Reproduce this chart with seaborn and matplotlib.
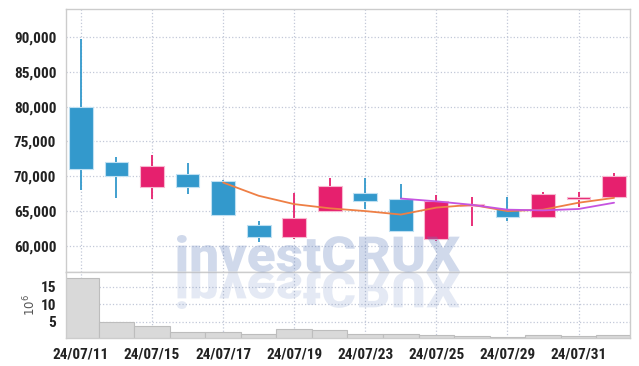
import numpy as np
import pandas as pd
import matplotlib
matplotlib.use('Agg')
import matplotlib.pyplot as plt
import seaborn as sns
from matplotlib.textpath import TextPath
from matplotlib.font_manager import FontProperties
from matplotlib.patches import PathPatch
from matplotlib.transforms import Affine2D, IdentityTransform
from matplotlib.ticker import FuncFormatter

# daily candles, 2024-07-11 .. 2024-08-01
dates = ['24/07/11', '24/07/12', '24/07/15', '24/07/16', '24/07/17', '24/07/18',
         '24/07/19', '24/07/22', '24/07/23', '24/07/24', '24/07/25', '24/07/26',
         '24/07/29', '24/07/30', '24/07/31', '24/08/01']
open_ = [80000, 72100, 68500, 70300, 69300, 63000, 61300, 65000,
         67600, 66700, 61000, 65800, 65300, 64100, 66800, 67000]
high = [89700, 72800, 73100, 71900, 69500, 63600, 67600, 69800,
        69700, 68900, 67300, 67000, 67000, 67800, 67700, 70500]
low = [68100, 66900, 66700, 67400, 64400, 60500, 61000, 64900,
       65300, 62000, 60700, 62900, 63600, 64000, 65600, 66900]
close = [71000, 70100, 71500, 68500, 64500, 61300, 64000, 68600,
         66500, 62100, 66500, 66000, 64100, 67400, 67000, 70000]
ma5 = [np.nan, np.nan, np.nan, np.nan, 69100, 67200, 66000, 65400,
       65000, 64500, 65500, 65900, 65000, 65200, 66200, 66900]
ma10 = [np.nan] * 9 + [66800, 66400, 65900, 65200, 65100, 65300, 66200]
volume = [17.4, 4.8, 3.7, 2.0, 2.0, 1.4, 2.9, 2.6,
          1.4, 1.4, 1.2, 1.0, 0.7, 1.1, 0.8, 1.2]   # x 10^6

BLUE = '#3399cc'
RED = '#e6206e'

sns.set_theme(style='white')
plt.rcParams['font.family'] = ['Roboto Condensed', 'Liberation Sans Narrow',
                               'Liberation Sans', 'DejaVu Sans']

df = pd.DataFrame({'x': np.arange(len(dates)), 'open': open_, 'high': high,
                   'low': low, 'close': close, 'ma5': ma5, 'ma10': ma10,
                   'vol': volume})
df['up'] = df['close'] >= df['open']
cols = np.where(df['up'], RED, BLUE)
edges = np.where(df['up'], '#f7b8d0', '#bfe0f2')

fig = plt.figure(figsize=(6.39, 3.66), dpi=100)
ax = fig.add_axes([0.1033, 0.256, 0.8827, 0.7186])
axv = fig.add_axes([0.1033, 0.0773, 0.8827, 0.1787], sharex=ax)

# candles
ax.vlines(df['x'], df['low'], df['high'], colors=cols, lw=1.3, zorder=2)
ax.bar(df['x'], (df['close'] - df['open']).abs().clip(lower=150),
       bottom=df[['open', 'close']].min(axis=1), width=0.67,
       color=cols, edgecolor=edges, linewidth=0.8, zorder=3)

# moving averages
sns.lineplot(data=df.dropna(subset=['ma5']), x='x', y='ma5', ax=ax,
             color='#ee7f45', lw=1.3, zorder=4)
sns.lineplot(data=df.dropna(subset=['ma10']), x='x', y='ma10', ax=ax,
             color='#c654e0', lw=1.3, zorder=4)

# volume
sns.barplot(data=df, x='x', y='vol', ax=axv, native_scale=True, width=1,
            color='#d9d9d9', saturation=1, edgecolor='#bdbdbd', linewidth=0.8,
            zorder=2)

grid_kw = dict(ls=':', color='#c2c8d8', lw=0.9)
for a in (ax, axv):
    a.grid(True, **grid_kw)
    a.set_axisbelow(True)
    for s in a.spines.values():
        s.set_color('#cccccc')
        s.set_linewidth(1)
    a.tick_params(length=0, pad=7, labelcolor='#222222')
    a.set_xlabel('')
    a.set_ylabel('')

ax.set_xlim(-0.42, 15.45)
ax.set_ylim(56200, 94000)
ax.set_yticks([60000, 65000, 70000, 75000, 80000, 85000, 90000])
ax.yaxis.set_major_formatter(FuncFormatter(lambda v, p: f'{v:,.0f}'))
ax.tick_params(axis='x', labelbottom=False)

axv.set_ylim(0.4, 19.1)
axv.set_yticks([5, 10, 15])
axv.set_xticks(df['x'][::2])
axv.set_xticklabels(dates[::2])
for lab in ax.get_yticklabels() + axv.get_yticklabels() + axv.get_xticklabels():
    lab.set_fontweight('bold')
    lab.set_fontsize(11)
axv.set_ylabel('$10^{6}$', fontsize=8.5, color='#555555')
axv.yaxis.set_label_coords(-0.05, 0.5)

# watermark with reflection (pixel coords)
tp = TextPath((0, 0), 'investCRUX', size=50,
              prop=FontProperties(family=['Roboto', 'DejaVu Sans'], weight='black'))
ext = tp.get_extents()
sx = (460 - 177) / ext.width
sy = (131 - 94) / ext.height
main_tr = Affine2D().translate(-ext.x0, -ext.y0).scale(sx, sy).translate(177, 94)
refl_tr = Affine2D().translate(-ext.x0, -ext.y0).scale(sx, -sy).translate(177, 94)
wm = (100 / 255, 130 / 255, 190 / 255)
fig.add_artist(PathPatch(main_tr.transform_path(tp), facecolor=wm, alpha=0.3,
                         edgecolor='none', transform=IdentityTransform(), zorder=5))
fig.add_artist(PathPatch(refl_tr.transform_path(tp), facecolor=wm, alpha=0.17,
                         edgecolor='none', transform=IdentityTransform(), zorder=5))

fig.savefig('out.png', dpi=100)
